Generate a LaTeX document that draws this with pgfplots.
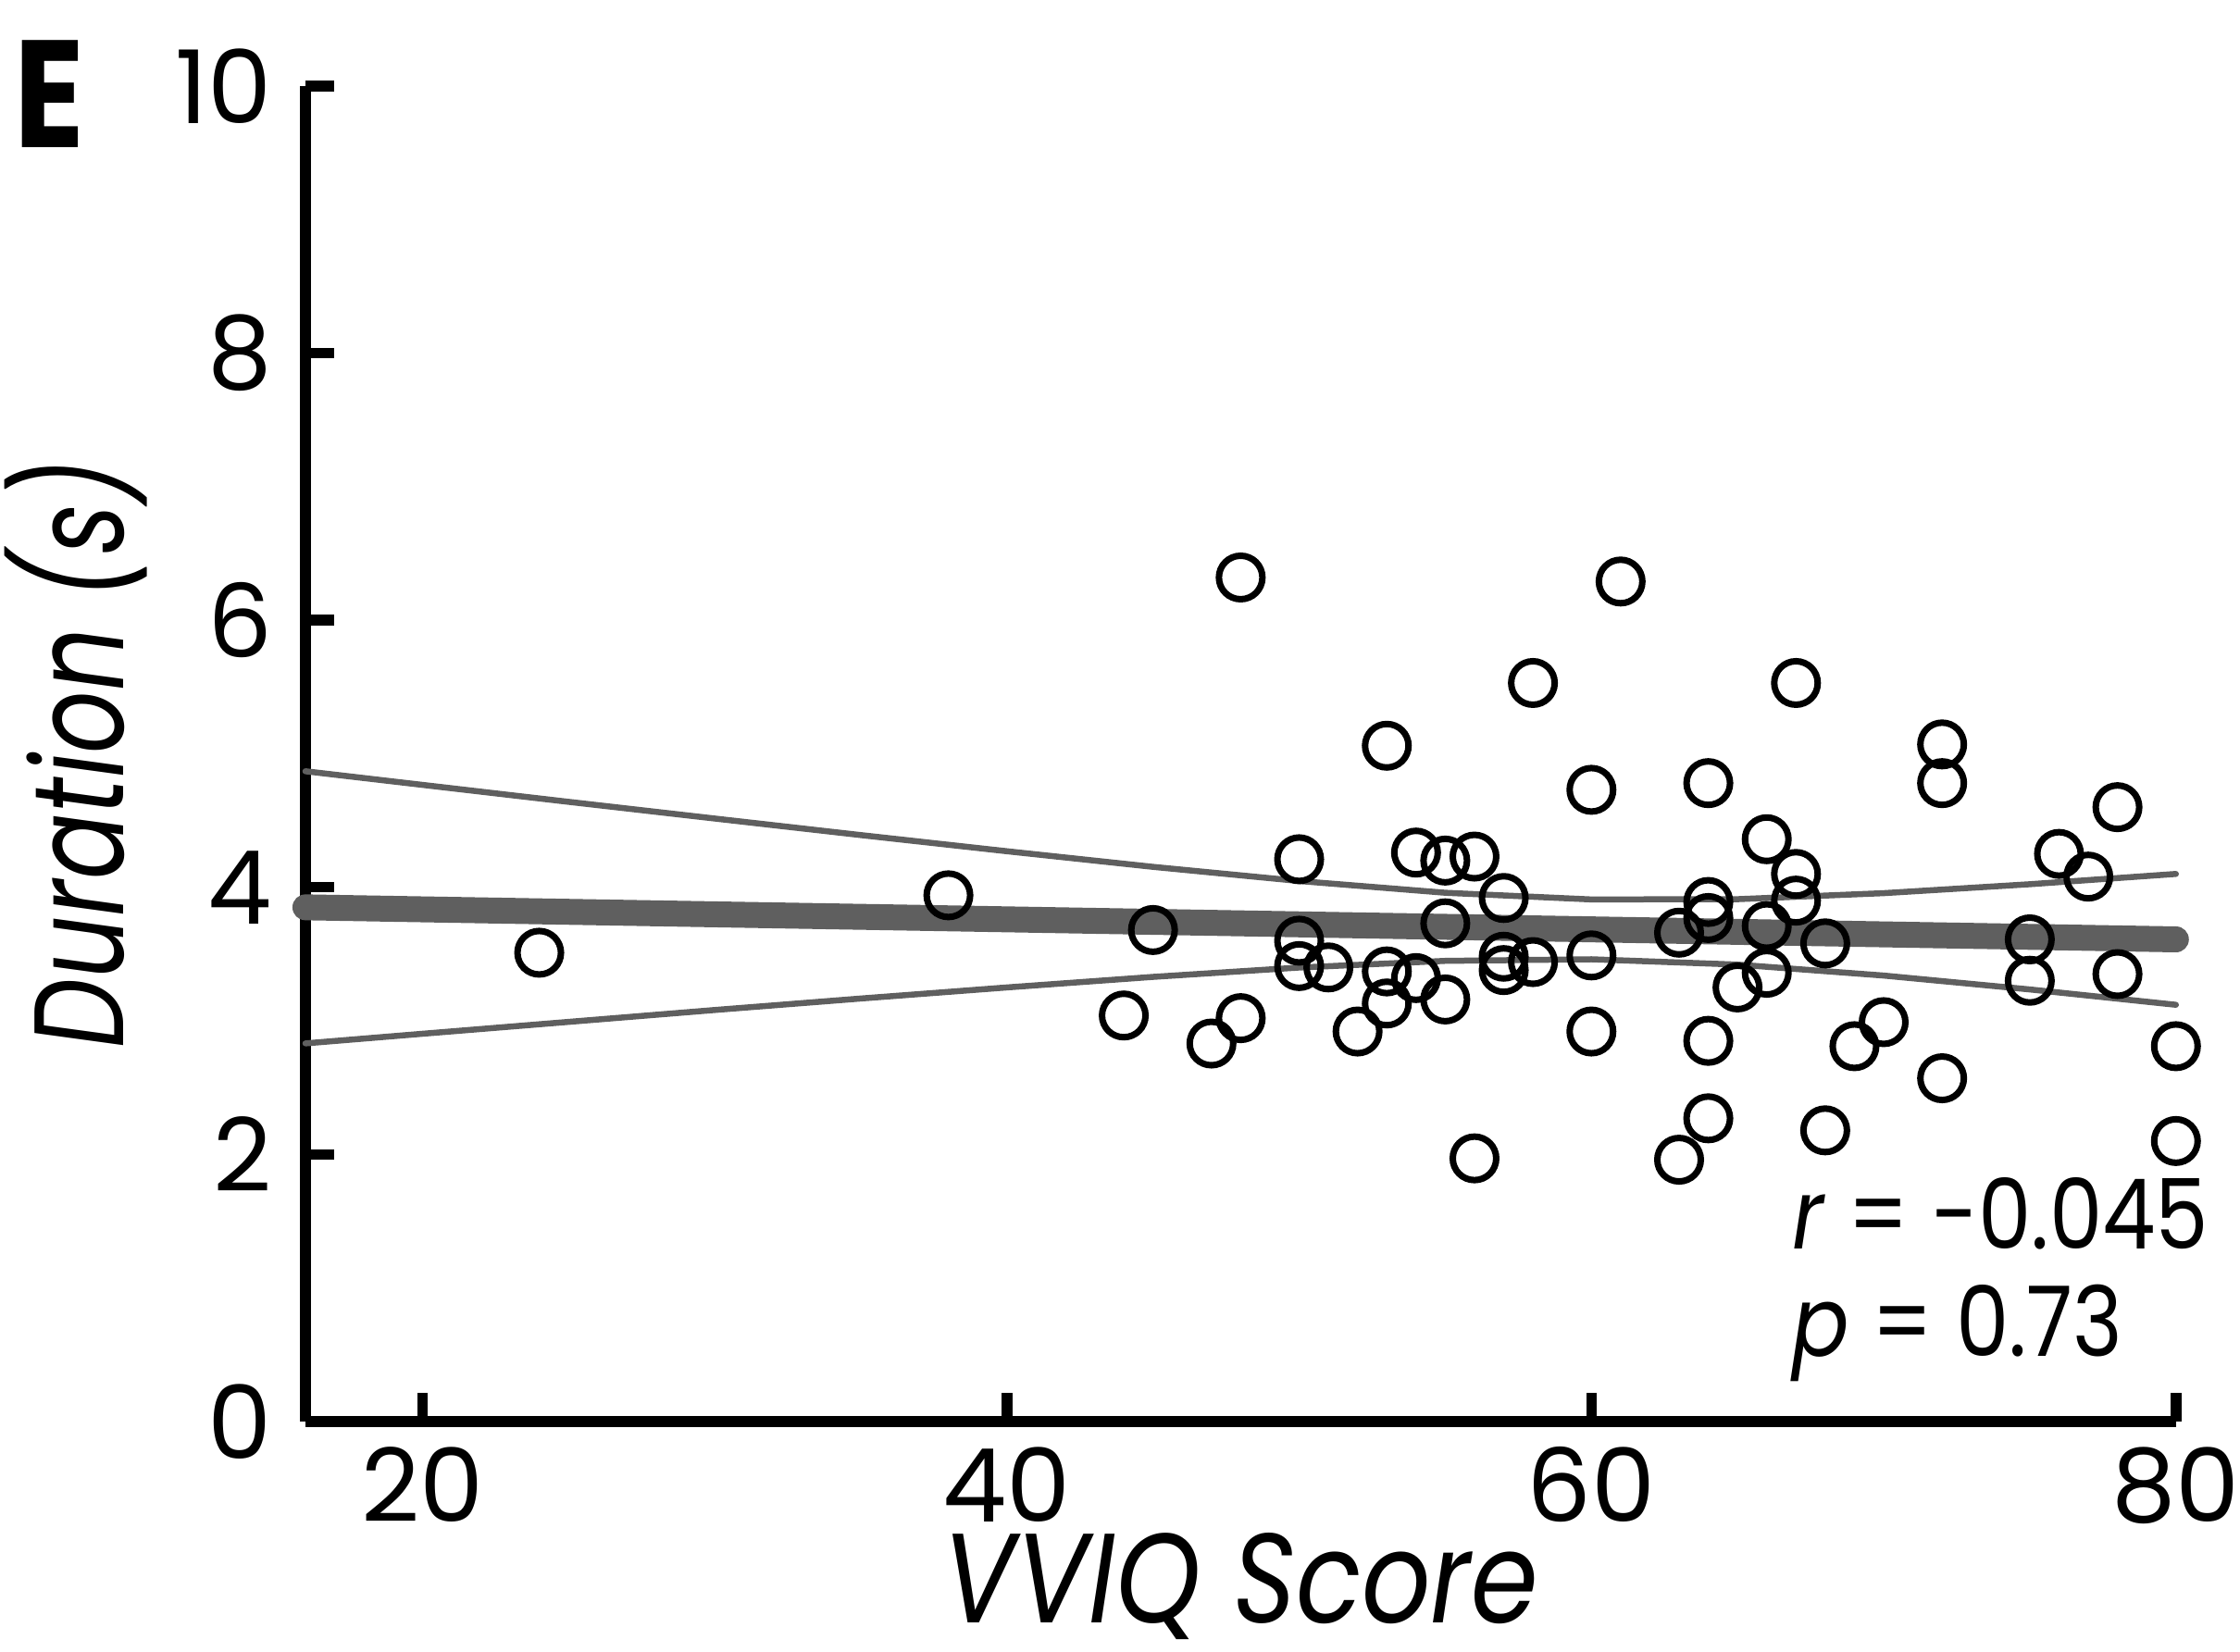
\documentclass[border=0pt]{standalone}
\usepackage{fontspec}
\setmainfont{Poppins}
\newfontfamily\xlabfont[FakeStretch=0.85]{Poppins}
\newfontfamily\ylabfont[FakeStretch=0.77]{Poppins}
\newfontfamily\statfont[FakeStretch=0.87]{Poppins}
\newfontfamily\panelfont[FakeStretch=0.85]{Poppins}
\usepackage{pgfplots}
\pgfplotsset{compat=1.18}
\definecolor{fitgray}{HTML}{5F5F5F}
\begin{document}
\begin{tikzpicture}
\begin{axis}[
  at={(0pt,0pt)}, anchor=south west,
  width=404.2pt, height=288.6pt, scale only axis,
  xmin=16, xmax=80, ymin=0, ymax=10,
  enlargelimits=false, clip=false,
  axis lines=left,
  axis line style={-, line width=2.3pt, black},
  xtick={20,40,60,80}, ytick={0,2,4,6,8,10},
  minor tick num=0,
  tick align=inside, major tick length=6.2pt,
  tick style={black, line width=2.3pt},
  /pgf/number format/assume math mode=true,
  ticklabel style={font=\fontsize{22}{26}\selectfont, inner sep=0pt},
  xticklabel style={anchor=north, yshift=-6pt, text height=15.5pt, text depth=0pt},
  yticklabel style={anchor=east, xshift=-7pt},
  xlabel={\itshape VVIQ Score},
  ylabel={\itshape Duration (s)},
  xlabel style={font=\xlabfont\fontsize{27.5}{32}\selectfont, inner sep=0pt,
    text height=20pt, text depth=2pt,
    at={([yshift=-43.5pt]axis description cs:0.5,0)}, anchor=base},
  ylabel style={font=\ylabfont\fontsize{27.5}{32}\selectfont, inner sep=0pt,
    at={([xshift=-39.2pt]axis description cs:0,0.5)}, anchor=base},
]
% confidence band (upper / lower)
\addplot[fitgray, line width=1.3pt, line cap=round] coordinates {
(16,4.869) (20,4.767) (25,4.640) (30,4.515) (35,4.391) (40,4.270) (45,4.153)
(50,4.047) (55,3.959) (60,3.909) (65,3.911) (70,3.956) (75,4.023) (80,4.100)};
\addplot[fitgray, line width=1.3pt, line cap=round] coordinates {
(16,2.831) (20,2.903) (25,2.992) (30,3.081) (35,3.167) (40,3.250) (45,3.329)
(50,3.399) (55,3.449) (60,3.461) (65,3.421) (70,3.339) (75,3.235) (80,3.120)};
% regression line
\addplot[fitgray, line width=5.6pt, line cap=round] coordinates {(16,3.85) (80,3.61)};
% data
\addplot[only marks, mark=o, mark size=4.7pt, mark options={line width=1.4pt, black}] table {
x y
24 3.51
38 3.94
44 3.04
45 3.68
47 2.83
48 6.32
48 3.02
50 4.21
50 3.60
50 3.41
51 3.40
52 2.92
53 5.06
53 3.37
53 3.13
54 4.26
54 3.32
55 4.20
55 3.73
55 3.16
56 4.23
56 1.97
57 3.92
57 3.48
57 3.38
58 5.53
58 3.44
60 4.73
60 3.49
60 2.92
61 6.29
63 3.66
63 1.96
64 4.78
64 3.89
64 3.77
64 2.85
64 2.27
65 3.25
66 4.36
66 3.71
66 3.36
67 5.53
67 4.10
67 3.90
68 3.58
68 2.18
69 2.81
70 2.99
72 5.07
72 4.78
72 2.57
75 3.61
75 3.30
76 4.25
77 4.08
78 4.60
78 3.35
80 2.81
80 2.10
};
\node[anchor=base west, font=\statfont\fontsize{21}{25}\selectfont, inner sep=0pt] at (axis cs:66.85,1.29) {\textit{r} = -0.045};
\node[anchor=base west, font=\statfont\fontsize{21}{25}\selectfont, inner sep=0pt] at (axis cs:66.85,0.485) {\textit{p} = 0.73};
\end{axis}
\node[anchor=base west, font=\panelfont\bfseries\fontsize{33}{40}\selectfont, inner sep=0pt] at (-63pt,275.2pt) {E};
\path (-66pt,-49.8pt) rectangle (418pt,307.2pt);
\end{tikzpicture}
\end{document}
